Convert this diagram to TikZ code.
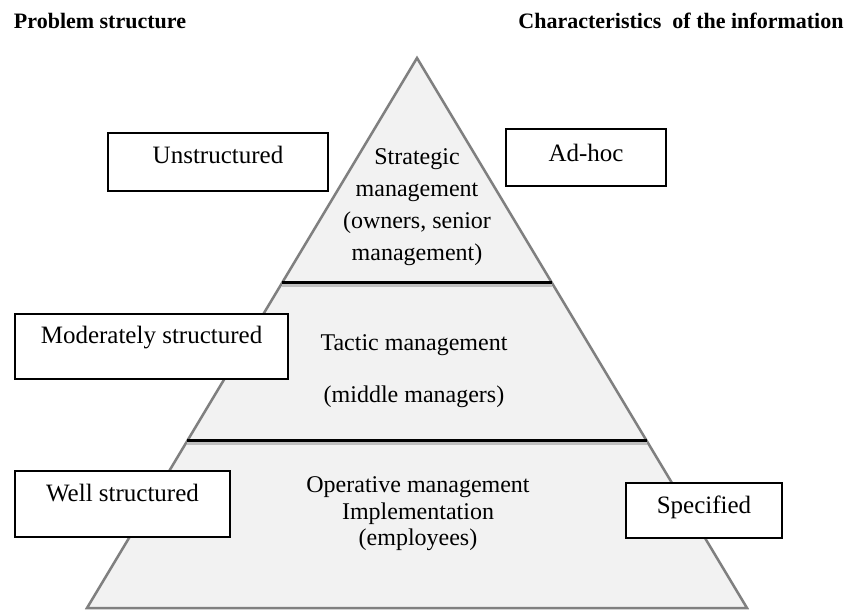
\documentclass[tikz,border=0pt]{standalone}
\usepackage{fontspec}
\setmainfont{Liberation Serif}
\usetikzlibrary{calc}
\definecolor{pyrfill}{RGB}{242,242,242}
\definecolor{pyredge}{RGB}{128,128,128}
\tikzset{
  box/.style={draw=black, line width=2pt, fill=white, inner sep=0pt},
  boxtext/.style={font=\fontsize{25}{30}\selectfont, inner sep=0pt},
  pyrtext/.style={font=\fontsize{24}{32}\selectfont, align=center, inner sep=0pt},
  header/.style={font=\fontsize{22}{26}\selectfont\bfseries, inner sep=0pt},
  divider/.style={draw=black, line width=3pt},
  dividershadow/.style={draw=black!25, line width=3pt},
}
\begin{document}
\begin{tikzpicture}[x=1pt,y=-1pt]
\useasboundingbox (0,0) rectangle (847,610);
% pyramid
\coordinate (A) at (417,58);
\coordinate (BL) at (87,608);
\coordinate (BR) at (747,608);
\draw[fill=pyrfill, draw=pyredge, line width=2.5pt, line join=miter] (A) -- (BL) -- (BR) -- cycle;
\coordinate (d1l) at ($(A)!0.409!(BL)$);
\coordinate (d1r) at ($(A)!0.409!(BR)$);
\coordinate (d2l) at ($(A)!0.696!(BL)$);
\coordinate (d2r) at ($(A)!0.696!(BR)$);
\draw[dividershadow] ([yshift=-2.5pt]d1l) -- ([yshift=-2.5pt]d1r);
\draw[dividershadow] ([yshift=-2.5pt]d2l) -- ([yshift=-2.5pt]d2r);
\draw[divider] (d1l) -- (d1r);
\draw[divider] (d2l) -- (d2r);
% pyramid texts
\node[pyrtext] (strat) at (417,207) {Strategic\\management\\(owners, senior\\management)};
\node[pyrtext] (tact) at (414,371) {Tactic management\\[20pt](middle managers)};
\node[pyrtext, font=\fontsize{24}{26.5}\selectfont] (oper) at (418,514) {Operative management\\Implementation\\(employees)};
% headers
\node[header] (h1) at (100,21) {Problem structure};
\node[header] (h2) at (681,21) {Characteristics\ \ of the information};
% boxes
\node[box, minimum width=220pt, minimum height=58pt] (unstr) at (218,162) {};
\node[boxtext] (unstrt) at ([yshift=7pt]unstr) {Unstructured};
\node[box, minimum width=160pt, minimum height=57pt] (adhoc) at (586,157.5) {};
\node[boxtext] (adhoct) at ([yshift=4.5pt]adhoc) {Ad-hoc};
\node[box, minimum width=273pt, minimum height=65pt] (mod) at (151.5,346.5) {};
\node[boxtext] (modt) at ([yshift=8.5pt]mod) {Moderately structured};
\node[box, minimum width=215pt, minimum height=66pt] (well) at (122.5,504) {};
\node[boxtext] (wellt) at ([yshift=11pt]well) {Well structured};
\node[box, minimum width=156pt, minimum height=55pt] (spec) at (704,510.5) {};
\node[boxtext] (spect) at ([yshift=3.5pt]spec) {Specified};
\end{tikzpicture}
\end{document}
